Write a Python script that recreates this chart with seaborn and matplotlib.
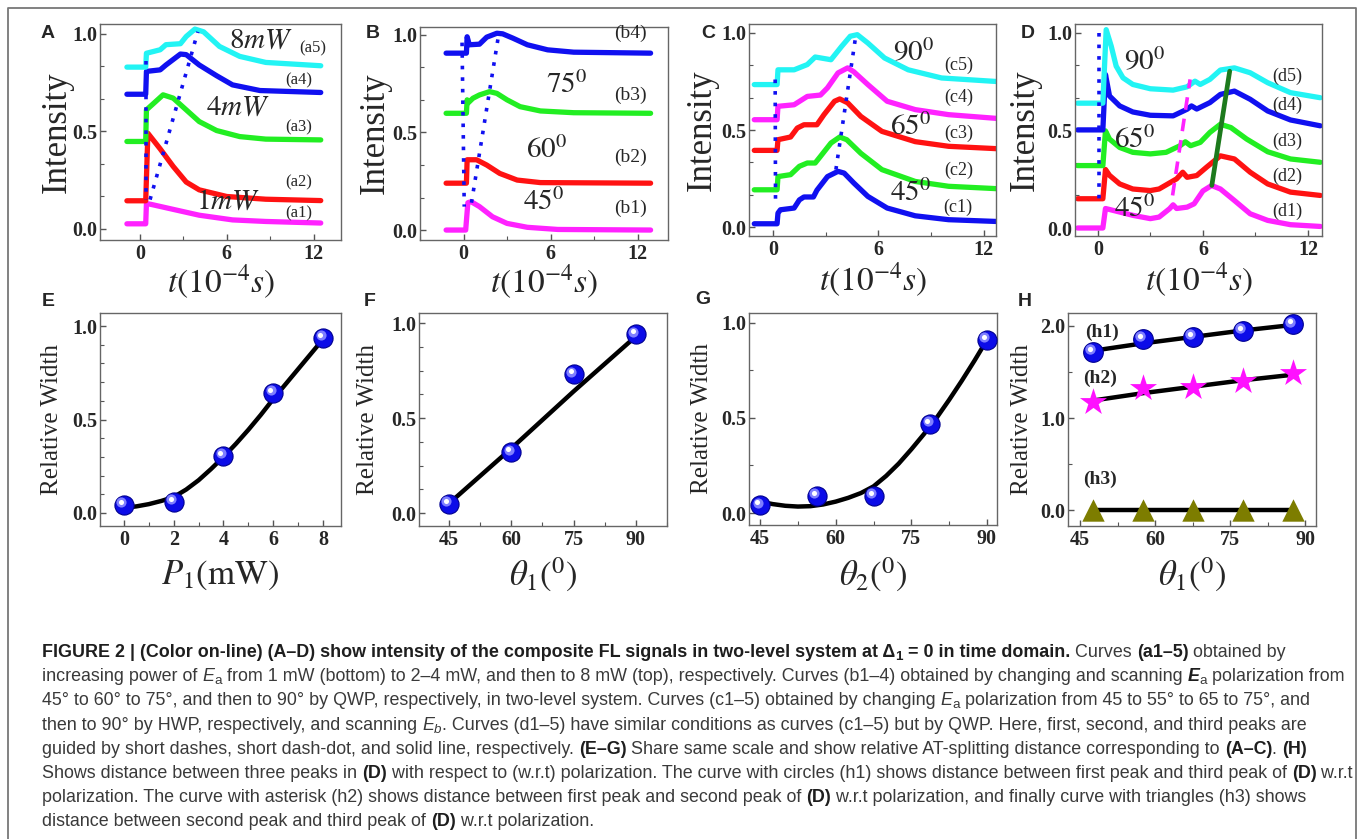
import numpy as np
import pandas as pd
import seaborn as sns
import matplotlib.pyplot as plt
from matplotlib.lines import Line2D
from matplotlib.ticker import MultipleLocator, FormatStrFormatter
from matplotlib.transforms import offset_copy

# ---------------- data ----------------
# (A) power series, time in 1e-4 s
a1_t = [-0.9, 0.4, 0.45, 0.8, 2.3, 4.1, 6.4, 8.7, 12.5]
a1_y = [0.026, 0.026, 0.13, 0.125, 0.10, 0.07, 0.046, 0.038, 0.03]
a2_t = [-0.9, 0.4, 0.55, 1.4, 2.3, 3.2, 4.1, 6.0, 8.7, 12.5]
a2_y = [0.144, 0.144, 0.49, 0.41, 0.32, 0.24, 0.20, 0.166, 0.152, 0.145]
a3_t = [-0.9, 0.4, 0.45, 0.9, 1.6, 2.3, 3.2, 4.1, 5.3, 6.9, 8.7, 12.5]
a3_y = [0.448, 0.448, 0.61, 0.64, 0.687, 0.67, 0.61, 0.55, 0.504, 0.473, 0.46, 0.456]
a4_t = [-0.9, 0.4, 0.45, 1.4, 1.8, 2.8, 3.2, 4.1, 5.3, 6.4, 8.3, 12.5]
a4_y = [0.69, 0.69, 0.807, 0.815, 0.84, 0.896, 0.893, 0.84, 0.785, 0.738, 0.709, 0.699]
a5_t = [-0.9, 0.4, 0.45, 1.4, 1.8, 2.8, 3.2, 3.8, 4.4, 5.5, 6.9, 8.7, 12.5]
a5_y = [0.829, 0.829, 0.90, 0.918, 0.944, 0.949, 0.986, 1.024, 1.01, 0.935, 0.884, 0.853, 0.836]
guide_a1 = ([0.4, 0.4], [0.86, 0.15])
guide_a2 = ([0.7, 4.0], [0.15, 1.01])

# (B) polarization by QWP
b1_t = [-1.2, 0.15, 0.3, 0.53, 1.1, 2.0, 3.0, 4.4, 6.5, 12.9]
b1_y = [0.0, 0.0, 0.14, 0.145, 0.12, 0.068, 0.034, 0.014, 0.003, 0.0]
b2_t = [-1.2, 0.2, 0.25, 0.9, 1.6, 2.5, 3.7, 5.3, 12.9]
b2_y = [0.24, 0.24, 0.36, 0.36, 0.333, 0.29, 0.256, 0.243, 0.24]
b3_t = [-1.2, 0.2, 0.25, 0.3, 0.65, 1.1, 1.8, 2.3, 3.0, 3.9, 5.3, 7.6, 12.9]
b3_y = [0.598, 0.598, 0.667, 0.65, 0.675, 0.692, 0.709, 0.70, 0.667, 0.632, 0.61, 0.601, 0.598]
b4_t = [-1.2, 0.2, 0.25, 0.4, 1.1, 1.6, 2.3, 2.7, 3.4, 4.4, 5.8, 7.6, 12.9]
b4_y = [0.906, 0.906, 0.99, 0.949, 0.952, 0.988, 1.008, 1.005, 0.983, 0.949, 0.923, 0.911, 0.906]
guide_b1 = ([-0.1, 0.05], [0.96, 0.12])
guide_b2 = ([0.55, 2.4], [0.14, 0.99])

# (C) polarization by HWP
c1_t = [-1.07, 0.23, 0.28, 0.42, 1.2, 1.5, 1.76, 2.3, 2.5, 3.1, 3.7, 4.05, 4.6, 5.4, 6.5, 8.1, 10.0, 12.7]
c1_y = [0.017, 0.017, 0.072, 0.089, 0.098, 0.14, 0.155, 0.155, 0.19, 0.26, 0.287, 0.278, 0.227, 0.158, 0.098, 0.058, 0.038, 0.029]
c2_t = [-1.07, 0.23, 0.28, 1.0, 1.5, 1.95, 2.4, 2.7, 3.3, 3.8, 4.2, 5.0, 6.2, 8.1, 10.0, 12.7]
c2_y = [0.192, 0.192, 0.26, 0.27, 0.313, 0.33, 0.33, 0.364, 0.433, 0.464, 0.45, 0.38, 0.296, 0.235, 0.21, 0.198]
c3_t = [-1.07, 0.23, 0.28, 1.0, 1.38, 1.76, 2.5, 2.9, 3.5, 3.8, 4.25, 5.0, 6.2, 8.1, 10.0, 12.7]
c3_y = [0.395, 0.395, 0.45, 0.464, 0.51, 0.527, 0.527, 0.579, 0.648, 0.66, 0.64, 0.57, 0.493, 0.44, 0.416, 0.404]
c4_t = [-1.07, 0.23, 0.28, 1.2, 1.95, 2.7, 3.1, 3.7, 4.25, 4.6, 5.4, 6.5, 8.1, 10.0, 12.7]
c4_y = [0.553, 0.553, 0.622, 0.63, 0.673, 0.68, 0.717, 0.794, 0.82, 0.80, 0.734, 0.648, 0.605, 0.579, 0.56]
c5_t = [-1.07, 0.23, 0.28, 1.2, 1.95, 2.4, 3.3, 3.9, 4.4, 4.8, 5.4, 6.35, 7.7, 9.6, 12.7]
c5_y = [0.734, 0.734, 0.81, 0.81, 0.837, 0.876, 0.862, 0.93, 0.983, 0.991, 0.948, 0.871, 0.81, 0.768, 0.75]
guide_c1 = ([0.12, 0.14], [0.76, 0.14])
guide_c2 = ([3.58, 4.72], [0.296, 0.99])

# (D) polarization by QWP, three peaks
d1_t = [-1.15, 0.29, 0.44, 0.67, 2.0, 3.0, 3.5, 4.1, 4.3, 4.5, 5.1, 5.5, 6.0, 6.5, 7.0, 7.8, 8.7, 9.7, 11.0, 12.7]
d1_y = [0.0, 0.0, 0.10, 0.095, 0.065, 0.048, 0.056, 0.099, 0.119, 0.10, 0.107, 0.124, 0.19, 0.218, 0.20, 0.141, 0.073, 0.039, 0.017, 0.008]
d2_t = [-1.15, 0.29, 0.44, 0.67, 1.25, 2.0, 3.0, 3.5, 4.5, 4.85, 5.1, 5.65, 6.2, 7.0, 7.8, 8.7, 9.7, 11.0, 12.7]
d2_y = [0.15, 0.15, 0.30, 0.27, 0.226, 0.20, 0.192, 0.20, 0.252, 0.286, 0.26, 0.269, 0.311, 0.37, 0.354, 0.286, 0.226, 0.184, 0.167]
d3_t = [-1.15, 0.29, 0.44, 0.67, 1.25, 2.0, 3.0, 3.9, 4.7, 5.0, 5.3, 5.85, 6.4, 7.0, 7.6, 8.5, 9.7, 11.0, 12.7]
d3_y = [0.32, 0.32, 0.498, 0.456, 0.413, 0.388, 0.38, 0.388, 0.422, 0.442, 0.422, 0.439, 0.49, 0.532, 0.515, 0.456, 0.391, 0.354, 0.337]
d4_t = [-1.15, 0.29, 0.44, 0.67, 1.25, 2.0, 3.0, 4.3, 5.1, 5.35, 5.65, 6.4, 7.0, 7.8, 8.7, 9.7, 11.0, 12.7]
d4_y = [0.503, 0.503, 0.787, 0.677, 0.626, 0.595, 0.578, 0.575, 0.609, 0.626, 0.61, 0.643, 0.685, 0.702, 0.66, 0.60, 0.554, 0.524]
d5_t = [-1.15, 0.29, 0.48, 0.77, 1.05, 1.44, 2.0, 3.0, 4.3, 5.1, 5.55, 5.85, 6.4, 7.0, 7.8, 8.7, 9.7, 11.0, 12.7]
d5_y = [0.64, 0.64, 1.017, 0.932, 0.83, 0.77, 0.736, 0.714, 0.707, 0.724, 0.753, 0.736, 0.762, 0.81, 0.821, 0.796, 0.745, 0.694, 0.668]
guide_d1 = ([0.06, 0.06], [1.0, 0.133])
guide_d2 = ([4.27, 5.27], [0.167, 0.762])
guide_d3 = ([6.51, 7.53], [0.218, 0.804])

# (E)-(G) relative width, points and fitted curves
e_x = [0, 2, 4, 6, 8]
e_y = [0.043, 0.06, 0.305, 0.643, 0.937]
e_fit_x = [0, 0.5, 1, 1.5, 2, 2.5, 3, 3.5, 4, 4.5, 5, 5.5, 6, 6.5, 7, 7.5, 8]
e_fit_y = [0.027, 0.035, 0.047, 0.064, 0.085, 0.125, 0.175, 0.235, 0.30,
           0.37, 0.445, 0.525, 0.61, 0.69, 0.77, 0.85, 0.93]
f_x = [45, 60, 75, 90]
f_y = [0.05, 0.32, 0.73, 0.94]
f_fit_x = [45, 60, 75, 90]
f_fit_y = [0.05, 0.34, 0.64, 0.93]
g_x = [45, 56.25, 67.5, 78.75, 90]
g_y = [0.04, 0.09, 0.09, 0.47, 0.91]
g_fit_x = [45, 47.5, 50, 52.5, 55, 57.5, 60, 62.5, 65, 67.5, 70, 72.5, 75, 77.5, 80, 82.5, 85, 87.5, 90]
g_fit_y = [0.06, 0.047, 0.038, 0.034, 0.036, 0.045, 0.06, 0.08, 0.105, 0.14,
           0.195, 0.26, 0.335, 0.415, 0.50, 0.595, 0.695, 0.80, 0.91]

# (H) distance between the three peaks of (D)
h_x = [47.5, 57.5, 67.5, 77.5, 87.5]
h1_y = [1.72, 1.86, 1.88, 1.95, 2.02]
h1_fit = [1.73, 1.81, 1.88, 1.95, 2.01]
h2_y = [1.17, 1.33, 1.34, 1.40, 1.49]
h2_fit = [1.19, 1.27, 1.34, 1.41, 1.47]
h3_y = [0.0, 0.0, 0.0, 0.0, 0.0]

CYAN, BLUE, GREEN, RED, MAGENTA = "#22f4f4", "#1010f0", "#22ee22", "#ff1212", "#ff22ff"
OLIVE = "#7d7d00"

sns.set_style("ticks")
plt.rcParams["font.family"] = ["Liberation Serif", "DejaVu Serif"]
plt.rcParams["mathtext.fontset"] = "stix"

W, H = 1362, 839
fig = plt.figure(figsize=(W / 100, H / 100), dpi=100)


def px_axes(l, t, r, b):
    return fig.add_axes([l / W, 1 - b / H, (r - l) / W, (b - t) / H])


def style(ax, xlim, ylim, xmaj, xmin, ymaj, ymin, xfmt="%d", yfmt="%.1f"):
    ax.set_xlim(xlim)
    ax.set_ylim(ylim)
    ax.xaxis.set_major_locator(MultipleLocator(xmaj))
    ax.xaxis.set_minor_locator(MultipleLocator(xmin))
    ax.yaxis.set_major_locator(MultipleLocator(ymaj))
    ax.yaxis.set_minor_locator(MultipleLocator(ymin))
    ax.xaxis.set_major_formatter(FormatStrFormatter(xfmt))
    ax.yaxis.set_major_formatter(FormatStrFormatter(yfmt))
    ax.tick_params(which="both", direction="in", color="#555555", labelsize=14.5,
                   pad=3, top=False, right=False)
    ax.tick_params(which="major", length=4, width=1)
    ax.tick_params(which="minor", length=3, width=0.8)
    ax.tick_params(axis="y", pad=2)
    for sp in ax.spines.values():
        sp.set_color("#666666")
        sp.set_linewidth(1.0)
    plt.setp(ax.get_xticklabels() + ax.get_yticklabels(), fontweight="bold")
    ax.set_xlabel("")
    ax.set_ylabel("")


def curve(ax, t, y, color, lw=3.8):
    sns.lineplot(x=t, y=y, ax=ax, color=color, lw=lw, estimator=None, sort=False,
                 solid_capstyle="round", solid_joinstyle="round")


def guide(ax, g, color, ls, lw=2.6):
    ax.plot(g[0], g[1], color=color, ls=ls, lw=lw, zorder=4)


def balls(ax, x, y, size=190):
    sns.scatterplot(x=x, y=y, ax=ax, s=size, color="#0c0ce8", edgecolor="#000090",
                    linewidth=0.8, zorder=5, legend=False)
    hi = offset_copy(ax.transData, fig=fig, x=-2.5, y=2.5, units="dots")
    sns.scatterplot(x=x, y=y, ax=ax, s=size * 0.28, color="#7f7fff", linewidth=0,
                    zorder=6, legend=False, transform=hi)
    hi2 = offset_copy(ax.transData, fig=fig, x=-3, y=3, units="dots")
    sns.scatterplot(x=x, y=y, ax=ax, s=size * 0.07, color="white", linewidth=0,
                    zorder=7, legend=False, transform=hi2)


def lab(ax, x, y, s, size=13, **kw):
    ax.text(x, y, s, fontsize=size, ha="center", va="center", zorder=8, **kw)


def panel_letter(x, y, s):
    fig.text(x / W, 1 - y / H, s, fontsize=14, fontweight="bold", family="Liberation Sans",
             ha="center", va="center")


def axis_texts(l, t, r, b, ylab, xlab, ysize, yoff, xy, xsize=25):
    fig.text((l - yoff) / W, 1 - (t + b) / 2 / H, ylab, rotation=90, fontsize=ysize,
             ha="center", va="center")
    fig.text((l + r) / 2 / W, 1 - xy / H, xlab, fontsize=xsize, ha="center", va="center")


tlab = r"$t(10^{\mathrm{-4}}s)$"

# ---------------- A ----------------
axA = px_axes(100, 24, 341, 240)
for t, y, c in [(a1_t, a1_y, MAGENTA), (a2_t, a2_y, RED), (a3_t, a3_y, GREEN),
                (a4_t, a4_y, BLUE), (a5_t, a5_y, CYAN)]:
    curve(axA, t, y, c)
guide(axA, guide_a1, BLUE, (0, (1, 2.2)))
guide(axA, guide_a2, BLUE, (0, (1, 2.2)))
lab(axA, 8.4, 0.965, r"$8mW$", 21)
lab(axA, 11.95, 0.925, "(a5)", 12)
lab(axA, 11.0, 0.76, "(a4)", 12)
lab(axA, 6.8, 0.62, r"$4mW$", 21)
lab(axA, 11.0, 0.518, "(a3)", 12)
lab(axA, 11.0, 0.236, "(a2)", 12)
lab(axA, 6.1, 0.138, r"$1mW$", 21)
lab(axA, 11.0, 0.08, "(a1)", 12)
style(axA, (-2.76, 13.9), (-0.057, 1.05), 6, 3, 0.5, 1 / 6)
axis_texts(100, 24, 341, 240, "Intensity", tlab, 25, 43, 282, 24)
panel_letter(48, 34, "A")

# ---------------- B ----------------
axB = px_axes(420, 27, 668, 240)
for t, y, c in [(b1_t, b1_y, MAGENTA), (b2_t, b2_y, RED), (b3_t, b3_y, GREEN), (b4_t, b4_y, BLUE)]:
    curve(axB, t, y, c)
guide(axB, guide_b1, BLUE, (0, (1, 2.2)))
guide(axB, guide_b2, BLUE, (0, (1, 2.2)))
lab(axB, 7.1, 0.744, r"$75^0$", 21)
lab(axB, 5.75, 0.41, r"$60^0$", 21)
lab(axB, 5.5, 0.144, r"$45^0$", 21)
for yy, s in [(1.01, "(b4)"), (0.69, "(b3)"), (0.374, "(b2)"), (0.113, "(b1)")]:
    lab(axB, 11.5, yy, s, 14)
style(axB, (-3.0, 14.1), (-0.051, 1.04), 6, 3, 0.5, 1 / 6)
axis_texts(420, 27, 668, 240, "Intensity", tlab, 25, 45, 282, 24)
panel_letter(373, 33, "B")

# ---------------- C ----------------
axC = px_axes(749, 24, 996, 236)
for t, y, c in [(c1_t, c1_y, BLUE), (c2_t, c2_y, GREEN), (c3_t, c3_y, RED),
                (c4_t, c4_y, MAGENTA), (c5_t, c5_y, CYAN)]:
    curve(axC, t, y, c)
guide(axC, guide_c1, BLUE, (0, (1, 2.2)))
guide(axC, guide_c2, BLUE, (0, (1, 2.2)))
lab(axC, 8.0, 0.897, r"$90^0$", 21)
lab(axC, 7.85, 0.515, r"$65^0$", 21)
lab(axC, 7.85, 0.175, r"$45^0$", 21)
for yy, s in [(0.835, "(c5)"), (0.67, "(c4)"), (0.485, "(c3)"), (0.294, "(c2)"), (0.103, "(c1)")]:
    lab(axC, 10.55, yy, s, 13)
style(axC, (-1.37, 12.7), (-0.046, 1.046), 6, 3, 0.5, 1 / 6)
axis_texts(749, 24, 996, 236, "Intensity", tlab, 25, 47, 280, 24)
panel_letter(708, 33, "C")

# ---------------- D ----------------
axD = px_axes(1075, 24, 1322, 236)
for t, y, c in [(d1_t, d1_y, MAGENTA), (d2_t, d2_y, RED), (d3_t, d3_y, GREEN),
                (d4_t, d4_y, BLUE), (d5_t, d5_y, CYAN)]:
    curve(axD, t, y, c)
guide(axD, guide_d1, BLUE, (0, (1, 2.2)))
guide(axD, guide_d2, MAGENTA, (0, (3.5, 2.5)), lw=2.6)
guide(axD, guide_d3, "#1d7a1d", "-", lw=3.4)
lab(axD, 2.7, 0.85, r"$90^0$", 21)
lab(axD, 2.1, 0.45, r"$65^0$", 21)
lab(axD, 2.1, 0.097, r"$45^0$", 21)
for yy, s in [(0.78, "(d5)"), (0.63, "(d4)"), (0.446, "(d3)"), (0.267, "(d2)"), (0.087, "(d1)")]:
    lab(axD, 10.8, yy, s, 13)
style(axD, (-1.3, 12.8), (-0.041, 1.046), 6, 3, 0.5, 1 / 6)
axis_texts(1075, 24, 1322, 236, "Intensity", tlab, 25, 50, 280, 24)
panel_letter(1028, 33, "D")

# ---------------- E ----------------
axE = px_axes(100, 313, 341, 526)
sns.lineplot(x=e_fit_x, y=e_fit_y, ax=axE, color="black", lw=3.2, estimator=None)
balls(axE, e_x, e_y)
style(axE, (-0.96, 8.72), (-0.07, 1.07), 2, 1, 0.5, 0.1)
axis_texts(100, 313, 341, 526, "Relative Width", r"$P_{1}\mathrm{(mW)}$", 18, 48, 575)
panel_letter(48, 302, "E")

# ---------------- F ----------------
axF = px_axes(419, 313, 667, 526)
sns.lineplot(x=f_fit_x, y=f_fit_y, ax=axF, color="black", lw=3.2, estimator=None)
balls(axF, f_x, f_y)
style(axF, (37.8, 97.5), (-0.068, 1.053), 15, 7.5, 0.5, 0.125)
axis_texts(419, 313, 667, 526, "Relative Width", r"$\theta_{1}({}^{0})$", 18, 51, 575)
panel_letter(370, 301, "F")

# ---------------- G ----------------
axG = px_axes(749, 313, 997, 525)
sns.lineplot(x=g_fit_x, y=g_fit_y, ax=axG, color="black", lw=3.2, estimator=None)
balls(axG, g_x, g_y)
style(axG, (42.8, 92.0), (-0.063, 1.052), 15, 7.5, 0.5, 0.25)
axis_texts(749, 313, 997, 525, "Relative Width", r"$\theta_{2}({}^{0})$", 18, 47, 575)
panel_letter(703, 300, "G")

# ---------------- H ----------------
axH = px_axes(1068, 313, 1316, 526)
sns.lineplot(x=h_x, y=h1_fit, ax=axH, color="black", lw=3.2, estimator=None)
sns.lineplot(x=h_x, y=h2_fit, ax=axH, color="black", lw=3.2, estimator=None)
sns.lineplot(x=h_x, y=h3_y, ax=axH, color="black", lw=3.2, estimator=None)
balls(axH, h_x, h1_y, 200)
sns.scatterplot(x=h_x, y=h2_y, ax=axH, marker="*", s=420, color="#ff10ff", linewidth=0,
                zorder=5, legend=False)
sns.scatterplot(x=h_x, y=h3_y, ax=axH, marker="^", s=260, color=OLIVE, linewidth=0,
                zorder=5, legend=False)
lab(axH, 49.5, 1.93, "(h1)", 14, fontweight="bold")
lab(axH, 49.0, 1.43, "(h2)", 14, fontweight="bold")
lab(axH, 49.0, 0.34, "(h3)", 14, fontweight="bold")
style(axH, (42.6, 92.2), (-0.17, 2.14), 15, 7.5, 1.0, 0.5)
axis_texts(1068, 313, 1316, 526, "Relative Width", r"$\theta_{1}({}^{0})$", 18, 46, 575)
panel_letter(1025, 302, "H")

# ---------------- outer frame ----------------
fig.add_artist(Line2D([8 / W, 8 / W, 1356 / W, 1356 / W], [0, 1 - 8 / H, 1 - 8 / H, 0],
                      color="#777777", lw=1.3, transform=fig.transFigure))

# ---------------- caption ----------------
R, B = "normal", "bold"
caption = [
    [("FIGURE 2 | (Color on-line) (A–D) show intensity of the composite FL signals in two-level system at Δ", B, "normal", 0),
     ("1", B, "normal", 1), (" = 0 in time domain.", B, "normal", 0), (" Curves ", R, "normal", 0),
     ("(a1–5)", B, "normal", 0), (" obtained by", R, "normal", 0)],
    [("increasing power of ", R, "normal", 0), ("E", R, "italic", 0), ("a", R, "normal", 1),
     (" from 1 mW (bottom) to 2–4 mW, and then to 8 mW (top), respectively. Curves (b1–4) obtained by changing and scanning ", R, "normal", 0),
     ("E", B, "italic", 0), ("a", R, "normal", 1), (" polarization from", R, "normal", 0)],
    [("45° to 60° to 75°, and then to 90° by QWP, respectively, in two-level system. Curves (c1–5) obtained by changing ", R, "normal", 0),
     ("E", R, "italic", 0), ("a", R, "normal", 1), (" polarization from 45 to 55° to 65 to 75°, and", R, "normal", 0)],
    [("then to 90° by HWP, respectively, and scanning ", R, "normal", 0), ("E", R, "italic", 0), ("b", R, "italic", 1),
     (". Curves (d1–5) have similar conditions as curves (c1–5) but by QWP. Here, first, second, and third peaks are", R, "normal", 0)],
    [("guided by short dashes, short dash-dot, and solid line, respectively. ", R, "normal", 0), ("(E–G)", B, "normal", 0),
     (" Share same scale and show relative AT-splitting distance corresponding to ", R, "normal", 0),
     ("(A–C)", B, "normal", 0), (". ", R, "normal", 0), ("(H)", B, "normal", 0)],
    [("Shows distance between three peaks in ", R, "normal", 0), ("(D)", B, "normal", 0),
     (" with respect to (w.r.t) polarization. The curve with circles (h1) shows distance between first peak and third peak of ", R, "normal", 0),
     ("(D)", B, "normal", 0), (" w.r.t", R, "normal", 0)],
    [("polarization. The curve with asterisk (h2) shows distance between first peak and second peak of ", R, "normal", 0),
     ("(D)", B, "normal", 0), (" w.r.t polarization, and finally curve with triangles (h3) shows", R, "normal", 0)],
    [("distance between second peak and third peak of ", R, "normal", 0), ("(D)", B, "normal", 0),
     (" w.r.t polarization.", R, "normal", 0)],
]

renderer = fig.canvas.get_renderer()
CAP_FONT = "Liberation Sans"


def advance(txt, size, weight, style_):
    t1 = fig.text(0, 0, "|" + txt + "|", fontsize=size, fontweight=weight, fontstyle=style_, family=CAP_FONT)
    t2 = fig.text(0, 0, "||", fontsize=size, fontweight=weight, fontstyle=style_, family=CAP_FONT)
    w = t1.get_window_extent(renderer).width - t2.get_window_extent(renderer).width
    t1.remove()
    t2.remove()
    return w


def line_width(runs, size):
    return sum(advance(s, size * (0.75 if sub else 1), w, st) for s, w, st, sub in runs)


base = 12.0
cap_size = base * (1345 - 42) / line_width(caption[1], base)

for i, runs in enumerate(caption):
    x = 42
    y = 657 + i * 24.2
    for s, w, st, sub in runs:
        fs = cap_size * (0.75 if sub else 1)
        fig.text(x / W, 1 - (y + (3 if sub else 0)) / H, s, fontsize=fs, fontweight=w, fontstyle=st,
                 family=CAP_FONT, color="#1e1e1e" if w == B else "#3a3a3a", va="baseline")
        x += advance(s, fs, w, st)

fig.savefig("out.png", dpi=100)
